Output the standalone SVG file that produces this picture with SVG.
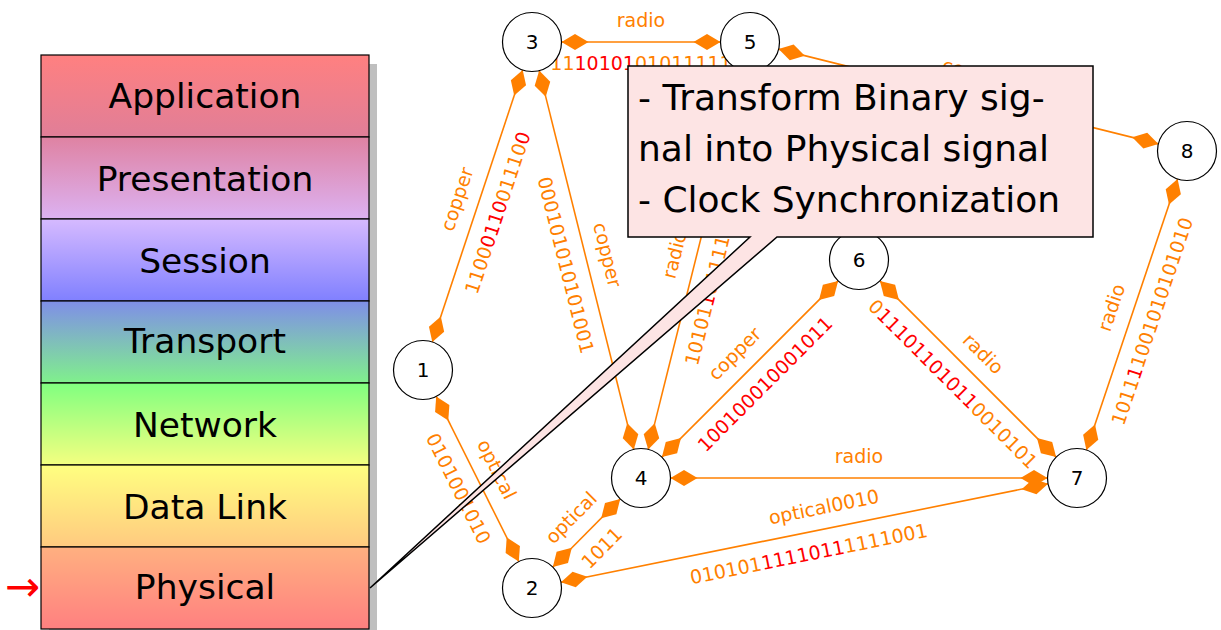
<svg xmlns="http://www.w3.org/2000/svg" width="1221" height="630" viewBox="0 0 1221 630">
<style>
.edge{stroke:#ff8000;stroke-width:1.6;fill:none;marker-start:url(#dia);marker-end:url(#dia)}
.lbl{font-family:"DejaVu Sans",sans-serif;font-size:19px;fill:#ff8000;text-anchor:middle}
.r{fill:#ff0000}
.node circle{fill:#fff;stroke:#000;stroke-width:1.2}
.node text{font-family:"DejaVu Sans",sans-serif;font-size:20px;fill:#000;text-anchor:middle}
.layer rect{stroke:#000;stroke-width:1.2}
.layer text{font-family:"DejaVu Sans",sans-serif;font-size:34.5px;fill:#000;text-anchor:middle}
.call{font-family:"DejaVu Sans",sans-serif;font-size:36px;fill:#000}
</style>
<defs>
<marker id="dia" markerUnits="userSpaceOnUse" orient="auto-start-reverse" refX="0" refY="0" markerWidth="30" markerHeight="20" overflow="visible">
<path d="M0,0 L-13.5,-8 L-27,0 L-13.5,8 Z" fill="#ff8000"/>
</marker>
<linearGradient id="g1" x1="0" y1="0" x2="0" y2="1"><stop offset="0" stop-color="#ff8080"/><stop offset="1" stop-color="#e07e98"/></linearGradient>
<linearGradient id="g2" x1="0" y1="0" x2="0" y2="1"><stop offset="0" stop-color="#df82a2"/><stop offset="1" stop-color="#dcb2f2"/></linearGradient>
<linearGradient id="g3" x1="0" y1="0" x2="0" y2="1"><stop offset="0" stop-color="#d6baff"/><stop offset="1" stop-color="#8080ff"/></linearGradient>
<linearGradient id="g4" x1="0" y1="0" x2="0" y2="1"><stop offset="0" stop-color="#7f8ee8"/><stop offset="1" stop-color="#80f08c"/></linearGradient>
<linearGradient id="g5" x1="0" y1="0" x2="0" y2="1"><stop offset="0" stop-color="#80ff80"/><stop offset="1" stop-color="#f4ff80"/></linearGradient>
<linearGradient id="g6" x1="0" y1="0" x2="0" y2="1"><stop offset="0" stop-color="#ffff80"/><stop offset="1" stop-color="#ffca80"/></linearGradient>
<linearGradient id="g7" x1="0" y1="0" x2="0" y2="1"><stop offset="0" stop-color="#ffb080"/><stop offset="1" stop-color="#ff8080"/></linearGradient>
</defs>

<g id="stack">
<rect x="49" y="64" width="328" height="574" fill="#bfbfbf"/>
<g id="layer-application" class="layer"><rect x="41" y="55" width="328" height="82" fill="url(#g1)"/><text x="205" y="108">Application</text></g>
<g id="layer-presentation" class="layer"><rect x="41" y="137" width="328" height="82" fill="url(#g2)"/><text x="205" y="191">Presentation</text></g>
<g id="layer-session" class="layer"><rect x="41" y="219" width="328" height="82" fill="url(#g3)"/><text x="205" y="273">Session</text></g>
<g id="layer-transport" class="layer"><rect x="41" y="301" width="328" height="82" fill="url(#g4)"/><text x="205" y="353">Transport</text></g>
<g id="layer-network" class="layer"><rect x="41" y="383" width="328" height="82" fill="url(#g5)"/><text x="205" y="437">Network</text></g>
<g id="layer-datalink" class="layer"><rect x="41" y="465" width="328" height="82" fill="url(#g6)"/><text x="205" y="519">Data Link</text></g>
<g id="layer-physical" class="layer"><rect x="41" y="547" width="328" height="82" fill="url(#g7)"/><text x="205" y="599">Physical</text></g>
<text x="5" y="601" font-family="DejaVu Sans, sans-serif" font-size="42" fill="#ff0000">→</text>
</g>

<g id="connectors">
<line class="edge" x1="561.5" y1="42" x2="720.5" y2="42"/>
<line class="edge" x1="778.6" y1="49.1" x2="1158.4" y2="143.9"/>
<line class="edge" x1="432.3" y1="342" x2="522.7" y2="70"/>
<line class="edge" x1="539.2" y1="70.6" x2="633.8" y2="449.4"/>
<line class="edge" x1="648.2" y1="449.4" x2="742.8" y2="70.6"/>
<line class="edge" x1="436.2" y1="396.4" x2="518.8" y2="561.6"/>
<line class="edge" x1="552.8" y1="567" x2="620.2" y2="499"/>
<line class="edge" x1="560.9" y1="582.2" x2="1048.1" y2="483.8"/>
<line class="edge" x1="670.5" y1="478" x2="1047.5" y2="478"/>
<line class="edge" x1="661.9" y1="457.1" x2="838.1" y2="280.9"/>
<line class="edge" x1="879.9" y1="280.9" x2="1056.1" y2="457.1"/>
<line class="edge" x1="1086.4" y1="450" x2="1177.6" y2="179"/>

<g class="lbl">
<g transform="translate(641,42)"><text class="lbl" y="-15">radio</text><text class="lbl" y="28">11<tspan class="r">10101</tspan>01011111</text></g>
<g transform="translate(968.5,96.5) rotate(14)"><text class="lbl" y="-18">copper</text></g>
<g transform="translate(477.5,206) rotate(-71.6)"><text class="lbl" y="-15">copper</text><text class="lbl" y="28">1100<tspan class="r">0110</tspan>01110<tspan class="r">0</tspan></text></g>
<g transform="translate(586.5,260) rotate(76)"><text class="lbl" y="-15">copper</text><text class="lbl" y="28">000101010101001</text></g>
<g transform="translate(695.5,260) rotate(-76)"><text class="lbl" y="-15">radio</text><text class="lbl" y="28">10101<tspan class="r">1</tspan>01111010101</text></g>
<g transform="translate(477.5,479) rotate(63.4)"><text class="lbl" y="-15">optical</text><text class="lbl" y="28">0101001010</text></g>
<g transform="translate(586.5,533) rotate(-45.3)"><text class="lbl" y="-15">optical</text><text class="lbl" y="28">1011</text></g>
<g transform="translate(804.5,533) rotate(-11.4)"><text class="lbl" x="-32" y="-15" style="text-anchor:start">optical0010</text><text class="lbl" y="28">010101<tspan class="r">1111011</tspan>1111001</text></g>
<g transform="translate(859,478)"><text class="lbl" y="-15">radio</text></g>
<g transform="translate(750,369) rotate(-45)"><text class="lbl" y="-15">copper</text><text class="lbl" y="28"><tspan class="r">100100010001011</tspan></text></g>
<g transform="translate(968,369) rotate(45)"><text class="lbl" y="-15">radio</text><text class="lbl" y="28">0<tspan class="r">11101101011</tspan>0010101</text></g>
<g transform="translate(1132,314.5) rotate(-71.4)"><text class="lbl" y="-15">radio</text><text class="lbl" y="28">1011<tspan class="r">1</tspan>1001010101010</text></g>
</g>
</g>

<g id="node-1" class="node"><circle cx="423" cy="370" r="29.5"/><text x="423" y="377">1</text></g>
<g id="node-2" class="node"><circle cx="532" cy="588" r="29.5"/><text x="532" y="595">2</text></g>
<g id="node-3" class="node"><circle cx="532" cy="42" r="29.5"/><text x="532" y="49">3</text></g>
<g id="node-4" class="node"><circle cx="641" cy="478" r="29.5"/><text x="641" y="485">4</text></g>
<g id="node-5" class="node"><circle cx="750" cy="42" r="29.5"/><text x="750" y="49">5</text></g>
<g id="node-6" class="node"><circle cx="859" cy="260" r="29.5"/><text x="859" y="267">6</text></g>
<g id="node-7" class="node"><circle cx="1077" cy="478" r="29.5"/><text x="1077" y="485">7</text></g>
<g id="node-8" class="node"><circle cx="1187" cy="151" r="29.5"/><text x="1187" y="158">8</text></g>

<g id="callout">
<path d="M628,66 H1093 V237 H777 L370,588 L750,237 H628 Z" fill="#fde4e4" stroke="#000" stroke-width="1.5"/>
<text class="call" x="638" y="110">- Transform Binary sig-</text>
<text class="call" x="638" y="161">nal into Physical signal</text>
<text class="call" x="638" y="212">- Clock Synchronization</text>
</g>
</svg>
